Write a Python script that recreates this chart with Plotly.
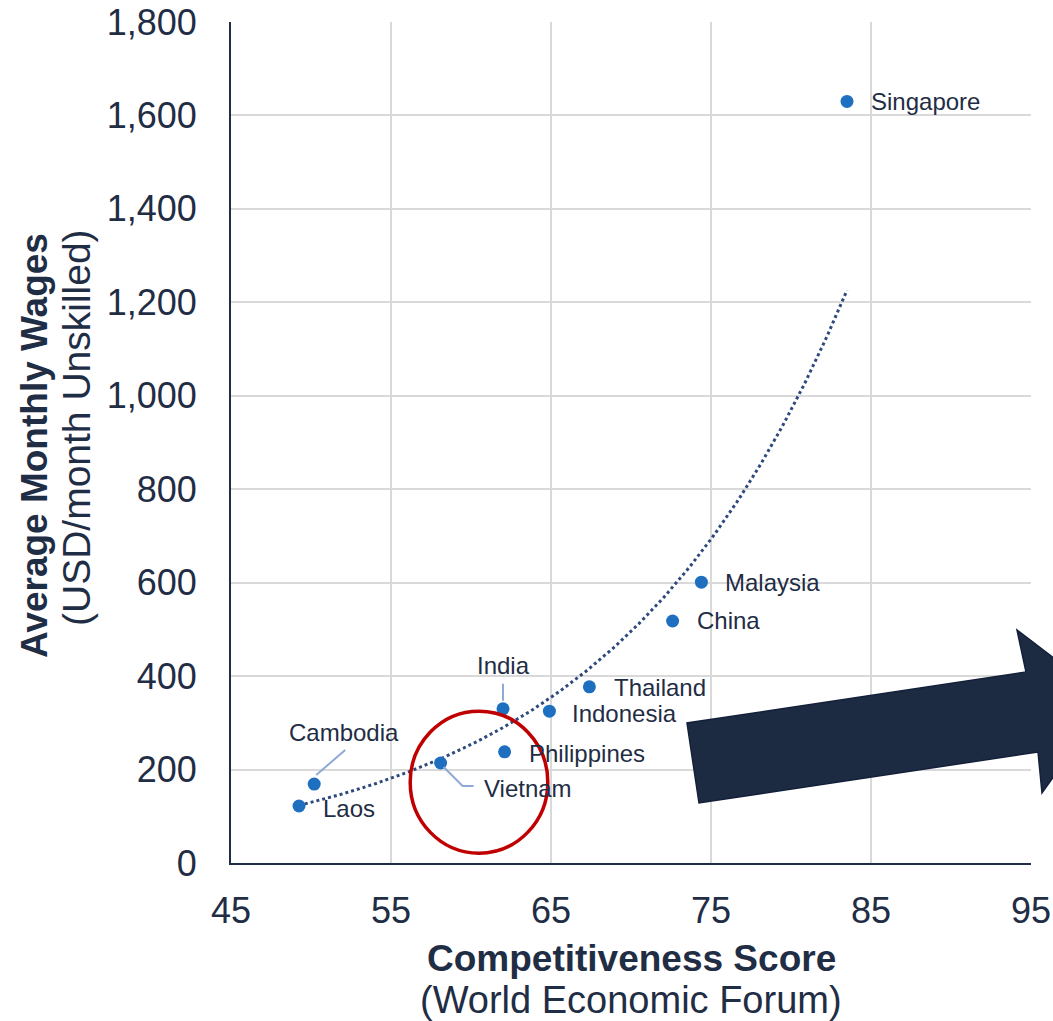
import numpy as np
import plotly.graph_objects as go

countries = ["Singapore", "Malaysia", "China", "Thailand", "Indonesia",
             "India", "Philippines", "Vietnam", "Cambodia", "Laos"]
score = [83.5, 74.4, 72.6, 67.4, 64.9, 62.0, 62.1, 58.1, 50.2, 49.25]
wages = [1630, 601, 518, 377, 325, 330, 238, 214, 169, 122]

x_ticks = [45, 55, 65, 75, 85, 95]
y_ticks = list(range(0, 1801, 200))

# label offsets in pixels (xshift, yshift, anchor)
label_pos = {
    "Singapore": (22, 0, "left"),
    "Malaysia": (22, 0, "left"),
    "China": (22, 0, "left"),
    "Thailand": (23, -1, "left"),
    "Indonesia": (21, -2, "left"),
    "Philippines": (22, -2, "left"),
    "India": (0, 43, "center"),
    "Cambodia": (30, 52, "center"),
    "Vietnam": (41, -25, "left"),
    "Laos": (22, -2, "left"),
}

W, H = 1053, 1021
L, R, T, B = 231, 22, 22, 158
PW, PH = W - L - R, H - T - B
FONT = "Liberation Sans, Arial"

def px(xp):
    return (xp - L) / PW

def py(yp):
    return (H - B - yp) / PH

navy = "#1F2D45"
fig = go.Figure()

# exponential trendline fitted to the data
coef = np.polyfit(score, np.log(wages), 1)
xt = np.linspace(min(score), max(score), 200)
yt = np.exp(coef[1]) * np.exp(coef[0] * xt)
fig.add_trace(go.Scatter(x=xt, y=yt, mode="lines",
                         line=dict(color="#2E4A7D", width=3, dash="dot"),
                         hoverinfo="skip", showlegend=False))

fig.add_trace(go.Scatter(x=score, y=wages, mode="markers",
                         marker=dict(color="#1F6FC0", size=13),
                         text=countries, showlegend=False))

annotations = []
for c, xv, yv in zip(countries, score, wages):
    dx, dy, anc = label_pos[c]
    annotations.append(dict(x=xv, y=yv, xref="x", yref="y", text=c,
                            showarrow=False, xanchor=anc, yanchor="middle",
                            xshift=dx, yshift=dy,
                            font=dict(size=24, color=navy, family=FONT)))

# leader lines (pixel offsets from the data point)
leaders = {
    "India": "M 0 8 L 0 25",
    "Cambodia": "M 2 9 L 31 34",
    "Vietnam": "M 3 -4 L 22 -23 L 33 -23",
}
shapes = []
for c, path in leaders.items():
    i = countries.index(c)
    shapes.append(dict(type="path", xref="x", yref="y", xsizemode="pixel", ysizemode="pixel",
                       xanchor=score[i], yanchor=wages[i], path=path,
                       line=dict(color="#8EA9D6", width=2)))

# red circle highlighting Vietnam
shapes.append(dict(type="circle", xref="x", yref="y", x0=56.2, x1=64.8, y0=21, y1=325,
                   line=dict(color="#C00000", width=3.5), layer="above"))

# block arrow
tip_len = 80
ux, uy = 339, -51
n = (ux ** 2 + uy ** 2) ** 0.5
ux, uy = ux / n, uy / n
mx, my = (1017 + 1042) / 2, (630 + 793) / 2
tip = (mx + tip_len * ux, my + tip_len * uy)
pts = [(699, 803), (687, 723), (1026, 672), (1017, 630), tip, (1042, 793), (1038, 752)]
path = "M " + " L ".join(f"{px(a):.5f} {py(b):.5f}" for a, b in pts) + " Z"
shapes.append(dict(type="path", xref="paper", yref="paper", path=path,
                   fillcolor="#1C2A42", line=dict(color="#14203A", width=1.5), layer="above"))

# axis titles
title_common = dict(xref="paper", yref="paper", showarrow=False, xanchor="center", yanchor="middle")
annotations += [
    dict(x=px(631), y=py(958), text="<b>Competitiveness Score</b>",
         font=dict(size=37, color=navy, family=FONT), **title_common),
    dict(x=px(631), y=py(1000), text="(World Economic Forum)",
         font=dict(size=38, color=navy, family=FONT), **title_common),
    dict(x=px(35), y=py(446), text="<b>Average Monthly Wages</b>", textangle=-90,
         font=dict(size=37, color=navy, family=FONT), **title_common),
    dict(x=px(77), y=py(428), text="(USD/month Unskilled)", textangle=-90,
         font=dict(size=39, color=navy, family=FONT), **title_common),
]

fig.update_layout(
    width=W, height=H, margin=dict(l=L, r=R, t=T, b=B, autoexpand=False),
    paper_bgcolor="white", plot_bgcolor="white",
    font=dict(family=FONT, color=navy),
    annotations=annotations, shapes=shapes,
    xaxis=dict(range=[45, 95], tickvals=x_ticks, showgrid=True, gridcolor="#D9D9D9", gridwidth=2,
               showline=True, linecolor=navy, linewidth=2, zeroline=False, automargin=False,
               tickfont=dict(size=36, color=navy), ticklabelstandoff=15),
    yaxis=dict(range=[0, 1800], tickvals=y_ticks, tickformat=",", showgrid=True, gridcolor="#D9D9D9",
               gridwidth=2, showline=True, linecolor=navy, linewidth=2, zeroline=False, automargin=False,
               tickfont=dict(size=36, color=navy), ticklabelstandoff=25),
)

fig.write_html("out.html", config={"displayModeBar": False},
               post_script="document.body.style.margin='0';document.body.style.overflow='hidden';")
